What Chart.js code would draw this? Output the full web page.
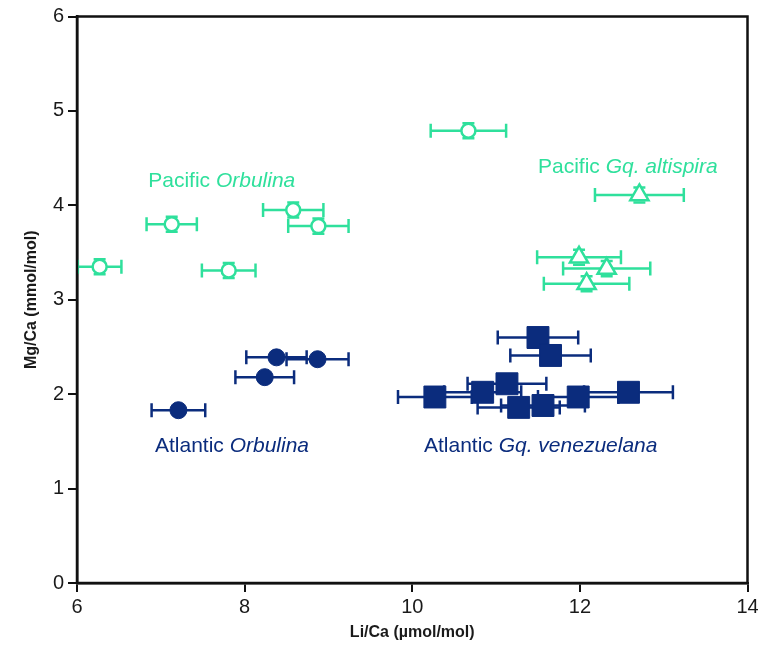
<!DOCTYPE html>
<html>
<head>
<meta charset="utf-8">
<script src="https://cdn.jsdelivr.net/npm/chart.js@4"></script>
<style>
    html, body { margin: 0; padding: 0; background: #fff; overflow: hidden; }
    #wrap { width: 758px; height: 655px; overflow: hidden; }
</style>
</head>
<body>
<div id="wrap"><canvas id="chart" width="764" height="655"></canvas></div>
<script>
// Pacific Orbulina (open circles)
const pacOrbX = [6.27, 7.13, 7.81, 8.58, 8.88, 10.67];
const pacOrbY = [3.35, 3.80, 3.31, 3.95, 3.78, 4.79];
const pacOrbXErr = [0.26, 0.30, 0.32, 0.36, 0.36, 0.45];
const pacOrbYErr = [0.08, 0.08, 0.08, 0.08, 0.08, 0.08];

// Pacific Gq. altispira (open triangles)
const pacAltX = [12.71, 11.99, 12.32, 12.08];
const pacAltY = [4.11, 3.45, 3.33, 3.17];
const pacAltXErr = [0.53, 0.50, 0.52, 0.51];
const pacAltYErr = [0.08, 0.08, 0.08, 0.08];

// Atlantic Orbulina (filled circles)
const atlOrbX = [7.21, 8.24, 8.38, 8.87];
const atlOrbY = [1.83, 2.18, 2.39, 2.37];
const atlOrbXErr = [0.32, 0.35, 0.36, 0.37];

// Atlantic Gq. venezuelana (filled squares)
const atlVenX = [10.27, 10.84, 11.13, 11.27, 11.56, 11.98, 12.58, 11.50, 11.65];
const atlVenY = [1.97, 2.02, 2.11, 1.86, 1.88, 1.97, 2.02, 2.60, 2.41];
const atlVenXErr = [0.44, 0.46, 0.47, 0.49, 0.50, 0.48, 0.53, 0.48, 0.48];

const xTicks = [6, 8, 10, 12, 14];
const yTicks = [0, 1, 2, 3, 4, 5, 6];

const GREEN = '#2fe09c';
const NAVY = '#0b2c7d';
const FONT = "'Liberation Sans', Arial, sans-serif";

function points(xs, ys) {
    return xs.map((x, i) => ({ x: x, y: ys[i] }));
}

// horizontal (and small vertical) error bars, drawn under the markers
const errorBars = {
    id: 'errorBars',
    beforeDatasetsDraw(chart) {
        const ctx = chart.ctx;
        const xs = chart.scales.x, ys = chart.scales.y;
        const area = chart.chartArea;
        ctx.save();
        ctx.beginPath();
        ctx.rect(area.left, area.top, area.right - area.left, area.bottom - area.top);
        ctx.clip();
        chart.data.datasets.forEach(ds => {
            ctx.strokeStyle = ds.borderColor;
            ctx.lineWidth = 2.5;
            ds.data.forEach((p, i) => {
                const py = ys.getPixelForValue(p.y);
                const px = xs.getPixelForValue(p.x);
                if (ds.xErr) {
                    const x0 = xs.getPixelForValue(p.x - ds.xErr[i]);
                    const x1 = xs.getPixelForValue(p.x + ds.xErr[i]);
                    ctx.beginPath();
                    ctx.moveTo(x0, py); ctx.lineTo(x1, py);
                    ctx.moveTo(x0, py - 7); ctx.lineTo(x0, py + 7);
                    ctx.moveTo(x1, py - 7); ctx.lineTo(x1, py + 7);
                    ctx.stroke();
                }
                if (ds.yErr) {
                    const y0 = ys.getPixelForValue(p.y - ds.yErr[i]);
                    const y1 = ys.getPixelForValue(p.y + ds.yErr[i]);
                    ctx.beginPath();
                    ctx.moveTo(px - 6, y0); ctx.lineTo(px + 6, y0);
                    ctx.moveTo(px - 6, y1); ctx.lineTo(px + 6, y1);
                    ctx.stroke();
                }
            });
        });
        ctx.restore();
    }
};

// box frame round the plot
const frame = {
    id: 'frame',
    afterDraw(chart) {
        const { ctx, chartArea: a } = chart;
        ctx.save();
        ctx.strokeStyle = '#111';
        ctx.lineWidth = 2.5;
        ctx.strokeRect(a.left, a.top, a.right - a.left, a.bottom - a.top);
        ctx.restore();
    }
};

// group labels with italic genus names
const groupLabels = {
    id: 'groupLabels',
    afterDatasetsDraw(chart) {
        const ctx = chart.ctx;
        const xs = chart.scales.x, ys = chart.scales.y;
        const labels = [
            { x: 6.85, y: 4.26, color: GREEN, parts: [['Pacific ', false], ['Orbulina', true]] },
            { x: 11.5, y: 4.40, color: GREEN, parts: [['Pacific ', false], ['Gq. altispira', true]] },
            { x: 6.93, y: 1.45, color: NAVY, parts: [['Atlantic ', false], ['Orbulina', true]] },
            { x: 10.14, y: 1.45, color: NAVY, parts: [['Atlantic ', false], ['Gq. venezuelana', true]] }
        ];
        ctx.save();
        ctx.textBaseline = 'middle';
        ctx.textAlign = 'left';
        labels.forEach(l => {
            let px = xs.getPixelForValue(l.x);
            const py = ys.getPixelForValue(l.y);
            ctx.fillStyle = l.color;
            l.parts.forEach(([text, italic]) => {
                ctx.font = (italic ? 'italic ' : '') + '21px ' + FONT;
                ctx.fillText(text, px, py);
                px += ctx.measureText(text).width;
            });
        });
        ctx.restore();
    }
};

const ctx = document.getElementById('chart').getContext('2d');
new Chart(ctx, {
    type: 'scatter',
    data: {
        datasets: [
            {
                label: 'Pacific Orbulina',
                data: points(pacOrbX, pacOrbY),
                xErr: pacOrbXErr,
                yErr: pacOrbYErr,
                pointStyle: 'circle',
                pointRadius: 7,
                backgroundColor: '#fff',
                borderColor: GREEN,
                borderWidth: 2.5
            },
            {
                label: 'Pacific Gq. altispira',
                data: points(pacAltX, pacAltY),
                xErr: pacAltXErr,
                yErr: pacAltYErr,
                pointStyle: 'triangle',
                pointRadius: 10.5,
                backgroundColor: '#fff',
                borderColor: GREEN,
                borderWidth: 2.5
            },
            {
                label: 'Atlantic Orbulina',
                data: points(atlOrbX, atlOrbY),
                xErr: atlOrbXErr,
                pointStyle: 'circle',
                pointRadius: 8.5,
                backgroundColor: NAVY,
                borderColor: NAVY,
                borderWidth: 1
            },
            {
                label: 'Atlantic Gq. venezuelana',
                data: points(atlVenX, atlVenY),
                xErr: atlVenXErr,
                pointStyle: 'rect',
                pointRadius: 15.5,
                backgroundColor: NAVY,
                borderColor: NAVY,
                borderWidth: 1
            }
        ]
    },
    options: {
        responsive: false,
        animation: false,
        events: [],
        layout: { padding: { top: 16, right: 5, left: 0, bottom: 0 } },
        plugins: {
            legend: { display: false },
            tooltip: { enabled: false }
        },
        scales: {
            x: {
                type: 'linear',
                min: 6,
                max: 14,
                afterFit: s => { s.height = 72; },
                afterBuildTicks: s => { s.ticks = xTicks.map(v => ({ value: v })); },
                grid: { drawOnChartArea: false, color: '#111', lineWidth: 2, tickLength: 9 },
                border: { color: '#111', width: 2.5 },
                ticks: { color: '#1a1a1a', padding: 3, font: { family: FONT, size: 20 } },
                title: {
                    display: true,
                    text: 'Li/Ca (\u00b5mol/mol)',
                    color: '#1a1a1a',
                    font: { family: FONT, size: 16, weight: 'bold' },
                    padding: { top: 0, bottom: 13 }
                }
            },
            y: {
                type: 'linear',
                min: 0,
                max: 6,
                afterFit: s => { s.width = 77; },
                afterBuildTicks: s => { s.ticks = yTicks.map(v => ({ value: v })); },
                grid: { drawOnChartArea: false, color: '#111', lineWidth: 2, tickLength: 9 },
                border: { color: '#111', width: 2.5 },
                ticks: { color: '#1a1a1a', padding: 4, font: { family: FONT, size: 20 } },
                title: {
                    display: true,
                    text: 'Mg/Ca (mmol/mol)',
                    color: '#1a1a1a',
                    font: { family: FONT, size: 16, weight: 'bold' },
                    padding: { top: 22, bottom: 0 }
                }
            }
        }
    },
    plugins: [errorBars, groupLabels, frame]
});
</script>
</body>
</html>
